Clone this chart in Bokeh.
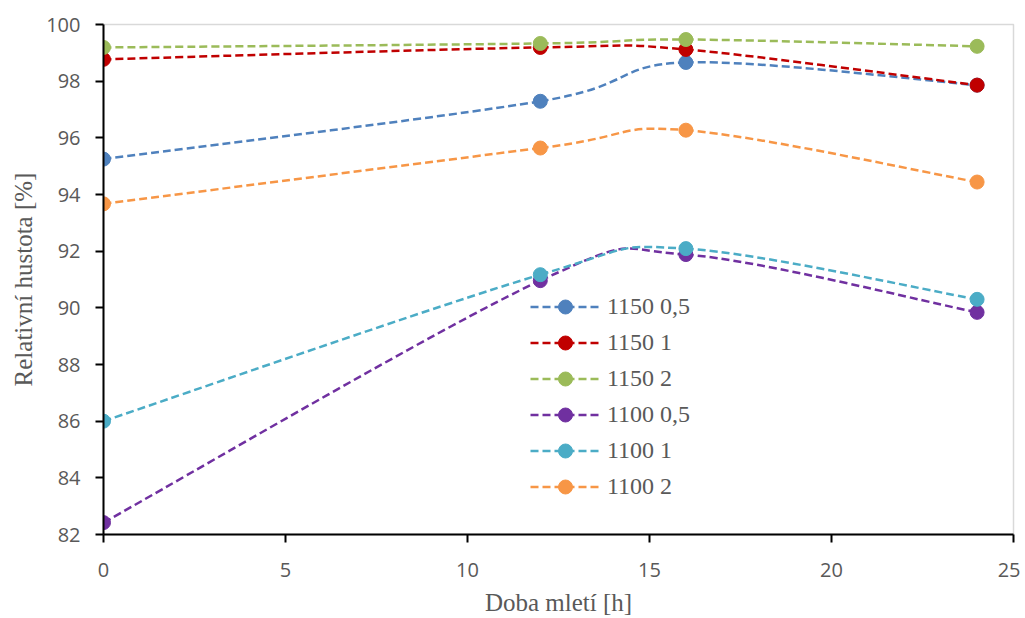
from bokeh.plotting import figure
from bokeh.models import ColumnDataSource, Legend, LegendItem, FixedTicker, Range1d
from bokeh.embed import file_html
from bokeh.resources import INLINE

x_hours = [0, 12, 16, 24]
names = ["1150 0,5", "1150 1", "1150 2", "1100 0,5", "1100 1", "1100 2"]
s_1150_05 = [95.25, 97.29, 98.66, 97.86]
s_1150_1 = [98.77, 99.19, 99.12, 97.86]
s_1150_2 = [99.19, 99.33, 99.47, 99.23]
s_1100_05 = [82.42, 90.96, 91.88, 89.84]
s_1100_1 = [86.0, 91.17, 92.09, 90.30]
s_1100_2 = [93.67, 95.64, 96.27, 94.44]
series = [s_1150_05, s_1150_1, s_1150_2, s_1100_05, s_1100_1, s_1100_2]
colors = ["#4F81BD", "#C00000", "#9BBB59", "#7030A0", "#4BACC6", "#F79646"]

p = figure(width=1020, height=618, output_backend="svg", toolbar_location=None,
           x_range=Range1d(0, 25), y_range=Range1d(82, 100),
           min_border_left=103, min_border_right=7, min_border_top=24, min_border_bottom=82)
p.xgrid.visible = False
p.ygrid.visible = False
p.outline_line_color = "#D9D9D9"
p.outline_line_width = 1.5

for ax in (p.xaxis[0], p.yaxis[0]):
    ax.axis_line_color = "black"
    ax.axis_line_width = 2
    ax.major_tick_line_color = "black"
    ax.major_tick_line_width = 2
    ax.major_tick_out = 8
    ax.major_tick_in = 0
    ax.minor_tick_line_color = None
    ax.major_label_text_font = "Open Sans"
    ax.major_label_text_font_size = "20px"
    ax.major_label_text_color = "#595959"
    ax.axis_label_text_font = "Liberation Serif"
    ax.axis_label_text_font_size = "25px"
    ax.axis_label_text_font_style = "normal"
    ax.axis_label_text_color = "#595959"

p.xaxis.ticker = FixedTicker(ticks=[0, 5, 10, 15, 20, 25])
p.yaxis.ticker = FixedTicker(ticks=list(range(82, 101, 2)))
p.xaxis.axis_label = "Doba mletí [h]"
p.yaxis.axis_label = "Relativní hustota [%]"
p.xaxis.major_label_standoff = 20
p.yaxis.major_label_standoff = 15
p.xaxis.axis_label_standoff = 9
p.yaxis.axis_label_standoff = 6

dash = "8 4"
items = []
for name, ys, c in zip(names, series, colors):
    n = len(x_hours)
    x0, y0, x1, y1, cx0, cy0, cx1, cy1 = [], [], [], [], [], [], [], []
    for i in range(n - 1):
        pa = i - 1 if i > 0 else i
        pb = i + 2 if i + 2 < n else i + 1
        x0.append(x_hours[i]); y0.append(ys[i])
        x1.append(x_hours[i + 1]); y1.append(ys[i + 1])
        cx0.append(x_hours[i] + (x_hours[i + 1] - x_hours[pa]) / 6)
        cy0.append(ys[i] + (ys[i + 1] - ys[pa]) / 6)
        cx1.append(x_hours[i + 1] - (x_hours[pb] - x_hours[i]) / 6)
        cy1.append(ys[i + 1] - (ys[pb] - ys[i]) / 6)
    bsrc = ColumnDataSource(dict(x0=x0, y0=y0, x1=x1, y1=y1, cx0=cx0, cy0=cy0, cx1=cx1, cy1=cy1))
    p.bezier(x0="x0", y0="y0", x1="x1", y1="y1", cx0="cx0", cy0="cy0", cx1="cx1", cy1="cy1",
             source=bsrc, line_color=c, line_width=2.5, line_dash=dash)
    # zero-length helper line, only used for the legend swatch
    leg_line = p.line(x=[x_hours[0], x_hours[0]], y=[ys[0], ys[0]],
                      line_color=c, line_width=2.5, line_dash=dash)
    sc = p.scatter(x=x_hours, y=ys, size=14, fill_color=c, line_color=c, marker="circle")
    items.append(LegendItem(label=name, renderers=[leg_line, sc]))

legend = Legend(items=items, location=(427, 30))
legend.glyph_width = 70
legend.glyph_height = 35
legend.label_height = 20
legend.spacing = 1
legend.padding = 0
legend.margin = 0
legend.label_standoff = 7
legend.border_line_color = None
legend.background_fill_alpha = 0
legend.label_text_font = "Liberation Serif"
legend.label_text_font_size = "24px"
legend.label_text_color = "#595959"
legend.label_text_baseline = "middle"
p.add_layout(legend, "center")

open("out.html", "w").write(file_html(p, INLINE))
